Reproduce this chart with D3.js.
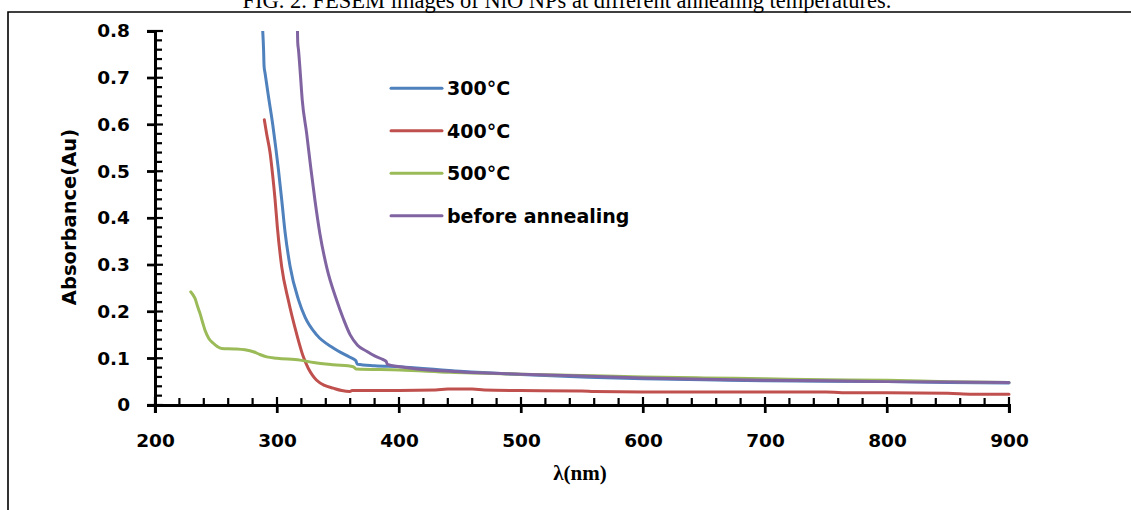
<!DOCTYPE html>
<html>
<head>
<meta charset="utf-8">
<script src="https://cdn.jsdelivr.net/npm/d3@7"></script>
<style>
  html, body { margin: 0; padding: 0; background: #fff; }
  svg { display: block; }
</style>
</head>
<body>
<svg id="chart" width="1131" height="510"></svg>
<script>
// UV-Vis absorbance spectra of NiO samples: [wavelength (nm), absorbance]
const seriesNames = ["300°C", "400°C", "500°C", "before annealing"];
const seriesColors = ["#4F81BD", "#C0504D", "#9BBB59", "#8064A2"];

const abs300 = [[288.3,0.80],[289.0,0.76],[289.4,0.725],[290.2,0.71],[293,0.66],[296.5,0.60],[299,0.55],[301.1,0.505],[303.9,0.438],[306.6,0.37],[310.7,0.297],[317.5,0.226],[323,0.188],[332.5,0.150],[346.1,0.122],[359.8,0.102],[364.5,0.095],[366,0.087],[380,0.084],[400,0.082],[450,0.072],[500,0.065],[550,0.060],[600,0.056],[650,0.054],[700,0.052],[750,0.051],[800,0.050],[850,0.048],[900,0.047]];

const abs400 = [[289.6,0.61],[291.5,0.58],[294.3,0.54],[296.5,0.49],[298.4,0.44],[300.3,0.38],[303.9,0.295],[309.3,0.224],[316.1,0.152],[321.6,0.103],[325.7,0.078],[329,0.064],[332.5,0.053],[339,0.042],[346.1,0.036],[353,0.031],[359.8,0.029],[361.5,0.031],[400,0.031],[430,0.032],[440,0.034],[460,0.034],[470,0.032],[500,0.031],[550,0.030],[560,0.029],[600,0.028],[700,0.028],[750,0.028],[770,0.026],[800,0.026],[850,0.025],[870,0.023],[900,0.023]];

const abs500 = [[229.3,0.242],[231,0.236],[232.8,0.228],[235,0.21],[236.9,0.196],[239,0.177],[241,0.16],[244,0.143],[247.8,0.132],[251,0.125],[254.7,0.121],[265,0.120],[273.8,0.118],[280.6,0.114],[286,0.108],[291.6,0.103],[300,0.100],[318.9,0.096],[330,0.091],[346.1,0.086],[362.5,0.082],[364.8,0.077],[400.8,0.075],[441.8,0.070],[500,0.066],[550,0.063],[600,0.060],[650,0.058],[700,0.056],[750,0.054],[800,0.053],[850,0.050],[900,0.048]];

const absBefore = [[316.8,0.80],[317.0,0.775],[317.6,0.76],[318.9,0.717],[320.7,0.652],[324.3,0.581],[327.6,0.509],[331.1,0.438],[335.2,0.366],[340.7,0.295],[348.9,0.224],[354.3,0.185],[360,0.150],[366,0.128],[373.5,0.115],[380,0.105],[387.1,0.097],[389.5,0.093],[390.5,0.087],[400.8,0.082],[441.8,0.072],[500,0.066],[550,0.062],[600,0.058],[650,0.055],[700,0.053],[750,0.052],[800,0.050],[850,0.049],[900,0.048]];

const seriesData = [abs300, abs400, abs500, absBefore];

const xTicks = [200, 300, 400, 500, 600, 700, 800, 900];
const yTicks = [0, 0.1, 0.2, 0.3, 0.4, 0.5, 0.6, 0.7, 0.8];

const svg = d3.select("#chart");
const sansBold = "'DejaVu Sans', sans-serif";

const x = d3.scaleLinear().domain([200, 900]).range([155, 1009]);
const y = d3.scaleLinear().domain([0, 0.8]).range([405, 31]);

// frame and caption
svg.append("path")
  .attr("d", "M8,510V12H1131")
  .attr("fill", "none").attr("stroke", "#000").attr("stroke-width", 1.6);

svg.append("text")
  .attr("x", 567).attr("y", 8)
  .attr("text-anchor", "middle")
  .style("font-family", "'Liberation Serif', 'Times New Roman', serif")
  .style("font-size", "22.5px")
  .text("FIG. 2. FESEM images of NiO NPs at different annealing temperatures.");

// clipped plotting region
svg.append("defs").append("clipPath").attr("id", "plotClip")
  .append("rect")
  .attr("x", x(200)).attr("y", y(0.8))
  .attr("width", x(900) - x(200) + 2).attr("height", y(0) - y(0.8));

const line = d3.line()
  .x(d => x(d[0])).y(d => y(d[1]))
  .curve(d3.curveMonotoneX);

const plot = svg.append("g").attr("clip-path", "url(#plotClip)");
seriesData.forEach((data, i) => {
  plot.append("path")
    .datum(data)
    .attr("d", line)
    .attr("fill", "none")
    .attr("stroke", seriesColors[i])
    .attr("stroke-width", 3)
    .attr("stroke-linejoin", "round")
    .attr("stroke-linecap", "round");
});

// minor ticks (inside only)
const yMinor = d3.range(0, 0.8001, 0.02).filter(v => Math.abs(v * 10 - Math.round(v * 10)) > 1e-6);
const xMinor = d3.range(200, 900.001, 20).filter(v => v % 100 !== 0);
const axisG = svg.append("g").attr("stroke", "#000").attr("stroke-width", 2.2);

axisG.selectAll("line.ymin").data(yMinor).join("line")
  .attr("x1", x(200)).attr("x2", x(200) + 7)
  .attr("y1", d => y(d)).attr("y2", d => y(d));
axisG.selectAll("line.xmin").data(xMinor).join("line")
  .attr("x1", d => x(d)).attr("x2", d => x(d))
  .attr("y1", y(0)).attr("y2", y(0) - 7);

// major ticks cross the axis
axisG.selectAll("line.ymaj").data(yTicks).join("line")
  .attr("x1", x(200) - 8).attr("x2", x(200) + 8)
  .attr("y1", d => y(d)).attr("y2", d => y(d));
axisG.selectAll("line.xmaj").data(xTicks).join("line")
  .attr("x1", d => x(d)).attr("x2", d => x(d))
  .attr("y1", y(0) - 8).attr("y2", y(0) + 8);

// axes with labels
const yAxis = svg.append("g")
  .attr("transform", `translate(${x(200)},0)`)
  .call(d3.axisLeft(y).tickValues(yTicks).tickSize(8).tickPadding(17)
    .tickFormat(d => d === 0 ? "0" : d3.format(".1f")(d)));
const xAxis = svg.append("g")
  .attr("transform", `translate(0,${y(0)})`)
  .call(d3.axisBottom(x).tickValues(xTicks).tickSize(8).tickPadding(21)
    .tickFormat(d3.format("d")));

[yAxis, xAxis].forEach(g => {
  g.select(".domain").attr("stroke", "#000").attr("stroke-width", 3);
  g.selectAll(".tick line").attr("stroke", "#000").attr("stroke-width", 2.2);
  g.selectAll(".tick text")
    .style("font-family", sansBold)
    .style("font-weight", "bold")
    .style("font-size", "18.5px")
    .attr("fill", "#000");
});

// axis titles
svg.append("text")
  .attr("transform", "translate(76,217) rotate(-90)")
  .attr("text-anchor", "middle")
  .style("font-family", sansBold).style("font-weight", "bold").style("font-size", "19.5px")
  .text("Absorbance(Au)");

svg.append("text")
  .attr("x", 580).attr("y", 480)
  .attr("text-anchor", "middle")
  .style("font-family", "'Liberation Serif', 'Times New Roman', serif")
  .style("font-weight", "bold").style("font-size", "21px")
  .text("λ(nm)");

// legend
const legendRows = [88.3, 130.7, 173.3, 215.7];
const legend = svg.append("g");
seriesNames.forEach((name, i) => {
  legend.append("line")
    .attr("x1", 391).attr("x2", 442)
    .attr("y1", legendRows[i]).attr("y2", legendRows[i])
    .attr("stroke", seriesColors[i]).attr("stroke-width", 3)
    .attr("stroke-linecap", "round");
  legend.append("text")
    .attr("x", 447).attr("y", legendRows[i])
    .attr("dy", "0.36em")
    .style("font-family", sansBold).style("font-weight", "bold").style("font-size", "19px")
    .text(name);
});
</script>
</body>
</html>
